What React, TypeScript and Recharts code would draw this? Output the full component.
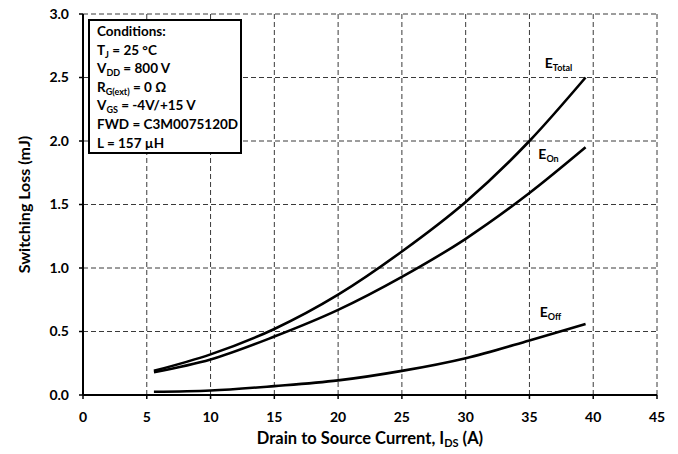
import {
  LineChart,
  Line,
  XAxis,
  YAxis,
  CartesianGrid,
  ReferenceDot,
  Label,
} from 'recharts';

const currents = [5.56, 10, 15, 20, 25, 30, 35, 39.4];
const eTotal = [0.19, 0.32, 0.52, 0.79, 1.13, 1.52, 2.0, 2.5];
const eOn = [0.18, 0.28, 0.46, 0.67, 0.93, 1.23, 1.59, 1.95];
const eOff = [0.025, 0.035, 0.07, 0.115, 0.19, 0.29, 0.43, 0.56];

const xTicks = [0, 5, 10, 15, 20, 25, 30, 35, 40, 45];
const yTicks = [0, 0.5, 1.0, 1.5, 2.0, 2.5, 3.0];

const curveLabels = [
  { x: 36.2, y: 2.575, sub: 'Total' },
  { x: 35.7, y: 1.86, sub: 'On' },
  { x: 35.8, y: 0.614, sub: 'Off' },
];

const conditions = [
  { main: 'Conditions:', sub: '', rest: '' },
  { main: 'T', sub: 'J', rest: ' = 25 °C' },
  { main: 'V', sub: 'DD', rest: ' = 800 V' },
  { main: 'R', sub: 'G(ext)', rest: ' = 0 Ω' },
  { main: 'V', sub: 'GS', rest: ' = -4V/+15 V' },
  { main: 'FWD = C3M0075120D', sub: '', rest: '' },
  { main: 'L = 157 µH', sub: '', rest: '' },
];

const data = currents.map((x, i) => ({
  x,
  total: eTotal[i],
  on: eOn[i],
  off: eOff[i],
}));

const FONT = "Lato, 'Open Sans', sans-serif";
const tickStyle = { fill: '#000', fontSize: 14, fontWeight: 700, fontFamily: FONT };

function CurveLabel(props: any) {
  const { cx, cy, sub } = props;
  return (
    <text x={cx} y={cy} fontFamily={FONT} fontWeight={700} fontSize={14} fill="#000">
      E
      <tspan fontSize={9} dy={3}>
        {sub}
      </tspan>
    </text>
  );
}

export default function App() {
  return (
    <div style={{ position: 'absolute', left: 0, top: 0, width: 678, height: 454, background: '#fff' }}>
      <LineChart
        width={678}
        height={454}
        data={data}
        margin={{ top: 14, right: 21, bottom: 0, left: 0 }}
      >
        <CartesianGrid strokeDasharray="5 3" stroke="#3a3a3a" strokeWidth={1} />
        <XAxis
          dataKey="x"
          type="number"
          domain={[0, 45]}
          ticks={xTicks}
          height={59}
          tick={tickStyle}
          tickSize={4}
          tickMargin={13}
          axisLine={{ stroke: '#000', strokeWidth: 2 }}
          tickLine={{ stroke: '#000', strokeWidth: 1.5 }}
        >
          <Label
            position="insideBottom"
            content={(p: any) => {
              const vb = p.viewBox;
              const cx = vb.x + vb.width / 2;
              return (
                <text
                  x={cx}
                  y={vb.y + vb.height - 10}
                  textAnchor="middle"
                  fontFamily={FONT}
                  fontWeight={700}
                  fontSize={16.5}
                  fill="#000"
                >
                  Drain to Source Current, I
                  <tspan fontSize={11} dy={3}>DS</tspan>
                  <tspan dy={-3}> (A)</tspan>
                </text>
              );
            }}
          />
        </XAxis>
        <YAxis
          type="number"
          domain={[0, 3]}
          ticks={yTicks}
          width={83}
          tick={tickStyle}
          tickSize={4}
          tickMargin={10}
          tickFormatter={(v: number) => v.toFixed(1)}
          axisLine={{ stroke: '#000', strokeWidth: 2 }}
          tickLine={{ stroke: '#000', strokeWidth: 1.5 }}
        >
          <Label
            value="Switching Loss (mJ)"
            angle={-90}
            position="insideLeft"
            offset={24}
            style={{ textAnchor: 'middle', fontFamily: FONT, fontWeight: 700, fontSize: 16, fill: '#000' }}
          />
        </YAxis>
        <Line type="monotone" dataKey="total" stroke="#000" strokeWidth={2.6} dot={false} isAnimationActive={false} />
        <Line type="monotone" dataKey="on" stroke="#000" strokeWidth={2.6} dot={false} isAnimationActive={false} />
        <Line type="monotone" dataKey="off" stroke="#000" strokeWidth={2.6} dot={false} isAnimationActive={false} />
        {curveLabels.map((c) => (
          <ReferenceDot
            key={c.sub}
            x={c.x}
            y={c.y}
            r={0}
            ifOverflow="visible"
            shape={(p: any) => <CurveLabel {...p} sub={c.sub} />}
          />
        ))}
      </LineChart>
      <div
        style={{
          position: 'absolute',
          left: 88,
          top: 19,
          width: 154,
          height: 135,
          border: '2px solid #000',
          background: '#fff',
          fontFamily: FONT,
          fontWeight: 700,
          fontSize: 13.5,
          padding: '1px 0 0 7px',
          boxSizing: 'border-box',
          color: '#000',
          overflow: 'hidden',
        }}
      >
        {conditions.map((c, i) => (
          <div key={i} style={{ height: 18.6, lineHeight: '18.6px', whiteSpace: 'nowrap' }}>
            {c.main}
            {c.sub && (
              <span style={{ fontSize: 9, position: 'relative', top: 3 }}>{c.sub}</span>
            )}
            {c.rest}
          </div>
        ))}
      </div>
    </div>
  );
}
